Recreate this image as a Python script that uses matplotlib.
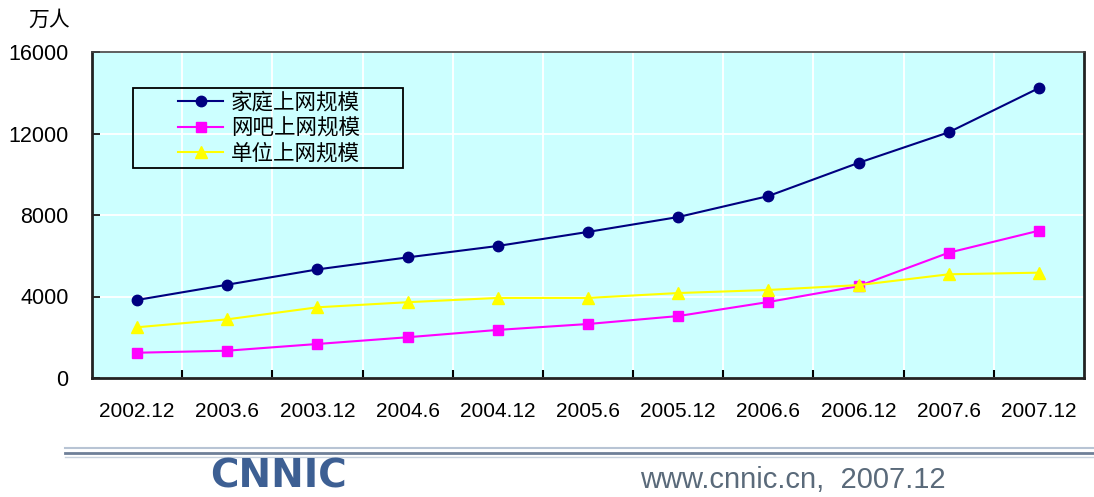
import matplotlib.pyplot as plt
from matplotlib.patches import Rectangle

plt.rcParams['font.family'] = ['Liberation Sans', 'Noto Sans CJK SC', 'DejaVu Sans']

# Datos (万人)
periodos = ["2002.12", "2003.6", "2003.12", "2004.6", "2004.12", "2005.6",
            "2005.12", "2006.6", "2006.12", "2007.6", "2007.12"]
hogar = [3830, 4580, 5330, 5920, 6480, 7170, 7900, 8930, 10560, 12060, 14230]
cibercafe = [1240, 1340, 1670, 2000, 2360, 2650, 3040, 3730, 4510, 6150, 7230]
trabajo = [2490, 2880, 3470, 3720, 3930, 3930, 4170, 4320, 4560, 5090, 5170]

nombres = ["家庭上网规模", "网吧上网规模", "单位上网规模"]

W, H = 1094, 497
fig = plt.figure(figsize=(W / 100, H / 100), dpi=100)
ax = fig.add_axes([92 / W, 1 - 378 / H, 992 / W, 326 / H])
ax.set_facecolor("#CCFFFF")

x = list(range(len(periodos)))
ax.plot(x, hogar, color="#000080", marker="o", ms=7.5, lw=1.5, label=nombres[0])
ax.plot(x, cibercafe, color="#FF00FF", marker="s", ms=7, lw=1.5, label=nombres[1])
ax.plot(x, trabajo, color="#FFFF00", marker="^", ms=8.5, lw=1.5, label=nombres[2])

ax.set_xlim(-0.5, len(periodos) - 0.5)
ax.set_ylim(0, 16000)
ax.set_yticks([0, 4000, 8000, 12000, 16000])
ax.set_xticks(x)
ax.set_xticklabels(periodos, fontsize=15)
ax.set_xticks([i + 0.5 for i in range(len(periodos) - 1)], minor=True)
ax.tick_params(axis="x", which="major", length=0, pad=17)
ax.tick_params(axis="x", which="minor", direction="in", length=6, width=1.5)
ax.tick_params(axis="y", direction="in", length=6, width=1.2, labelsize=15.5, pad=17)

# rejilla blanca
ax.grid(axis="y", color="white", lw=1.3)
ax.grid(axis="x", which="minor", color="white", lw=1.3)
ax.set_axisbelow(True)

for lado in ["left", "bottom", "right"]:
    ax.spines[lado].set_linewidth(2)
    ax.spines[lado].set_color("#222222")
ax.spines["top"].set_linewidth(1.2)
ax.spines["top"].set_color("#444444")

# caja de la leyenda dibujada aparte (margen izquierdo grande como en el original)
caja = Rectangle(((133 - 92) / 992, (378 - 168) / 326), 270 / 992, 80 / 326,
                 transform=ax.transAxes, facecolor="none", edgecolor="black",
                 lw=1.3, zorder=5)
ax.add_patch(caja)
leg = ax.legend(loc="upper left", bbox_to_anchor=((178 - 92) / 992, (378 - 92) / 326),
                frameon=False, borderpad=0, borderaxespad=0, labelspacing=0.16,
                handlelength=2.1, handletextpad=0.35,
                prop={"family": ["Noto Sans CJK SC"], "size": 15.5})

fig.text(28 / W, 1 - 20 / H, "万人", fontsize=15, va="center",
         family=["Noto Sans CJK SC"])

# pie de pagina
fig.add_artist(plt.Line2D([65 / W, 1], [1 - 448 / H] * 2, color="#b8c4d4", lw=1.5))
fig.add_artist(plt.Line2D([65 / W, 1], [1 - 453 / H] * 2, color="#6f8098", lw=2))
fig.add_artist(plt.Line2D([65 / W, 1], [1 - 457 / H] * 2, color="#c8d2de", lw=1))
fig.text(210 / W, 1 - 477 / H, "CNNIC", fontsize=28, fontweight="bold",
         color="#3d5f93", va="center", family=["DejaVu Sans"])
fig.text(640 / W, 1 - 480 / H, "www.cnnic.cn,  2007.12", fontsize=21,
         color="#5a6a7a", va="center")

fig.savefig("out.png", dpi=100)
